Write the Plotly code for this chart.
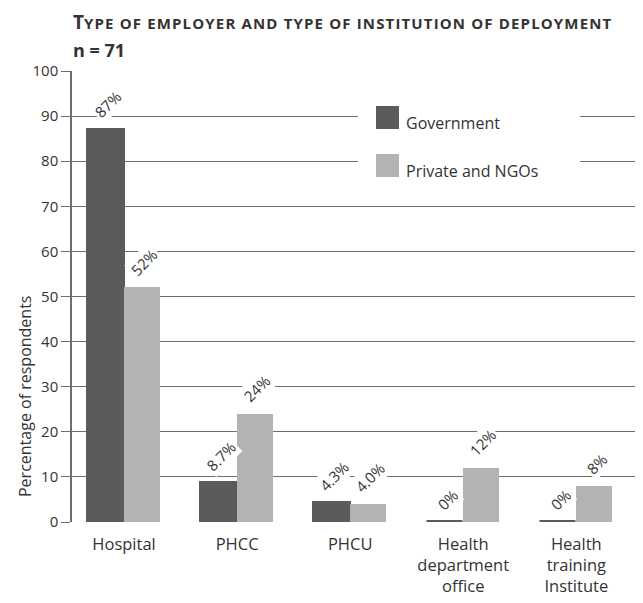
import plotly.graph_objects as go

categories = ["Hospital", "PHCC", "PHCU", "Health<br>department<br>office", "Health<br>training<br>Institute"]
government = [87, 8.7, 4.3, 0, 0]
private_ngo = [52, 24, 4.0, 12, 8]
gov_labels = ["87%", "8.7%", "4.3%", "0%", "0%"]
priv_labels = ["52%", "24%", "4.0%", "12%", "8%"]
series_names = ["Government", "Private and NGOs"]
y_ticks = [0, 10, 20, 30, 40, 50, 60, 70, 80, 90, 100]

DARK = "#5b5b5b"
LIGHT = "#b3b3b3"
GRID = "#6e6e6e"
TXT = "#333333"
FONT = "Open Sans"

OFF = 8  # page body margin
W, H = 643 - OFF, 603 - OFF
ML, MT = 72 - OFF, 71 - OFF
PW, PH = 571, 451
MR = W - ML - PW
MB = H - MT - PH
BARW = 0.32
idx = list(range(len(categories)))


def px(x):  # page pixel -> paper x
    return (x - OFF - ML) / PW


def py(y):  # page pixel -> paper y
    return (MT + PH - (y - OFF)) / PH


fig = go.Figure()
fig.add_trace(go.Bar(x=[i - BARW / 2 for i in idx], y=government, width=BARW, name=series_names[0],
                     marker=dict(color=DARK, line=dict(color=DARK, width=3)), showlegend=False))
fig.add_trace(go.Bar(x=[i + BARW / 2 for i in idx], y=private_ngo, width=BARW, name=series_names[1],
                     marker=dict(color=LIGHT, line=dict(width=0)), showlegend=False))

annotations = []
for i in idx:
    for xv, yv, lab in ((i - BARW / 2, government[i], gov_labels[i]), (i + BARW / 2, private_ngo[i], priv_labels[i])):
        annotations.append(dict(x=xv, y=yv, xref="x", yref="y", text=lab, showarrow=False,
                                textangle=-45, xanchor="center", yanchor="bottom", yshift=5, xshift=2,
                                bgcolor="white", borderpad=1,
                                font=dict(family=FONT, size=15, color=TXT)))

title_txt = ("<b>T<span style='font-size:15px;letter-spacing:1.15px'>"
             "YPE OF EMPLOYER AND TYPE OF INSTITUTION OF DEPLOYMENT</span></b>")
annotations.append(dict(xref="paper", yref="paper", x=px(71), xanchor="left", y=py(22),
                        yanchor="middle", showarrow=False, text=title_txt,
                        font=dict(family=FONT, size=19, color=TXT)))
annotations.append(dict(xref="paper", yref="paper", x=px(71), xanchor="left", y=py(50),
                        yanchor="middle", showarrow=False, text="<b>n = 71</b>",
                        font=dict(family=FONT, size=18, color=TXT)))
annotations.append(dict(xref="paper", yref="paper", x=px(25), xanchor="center",
                        y=py(397), yanchor="middle", showarrow=False, textangle=-90,
                        text="Percentage of respondents", font=dict(family=FONT, size=16, color=TXT)))

shapes = [dict(type="rect", xref="paper", yref="paper", x0=px(358), x1=px(580), y0=py(188), y1=py(100),
               fillcolor="white", line=dict(width=0), layer="above")]
legend_rows = [(series_names[0], DARK, 106), (series_names[1], LIGHT, 154)]
for name, col, top in legend_rows:
    shapes.append(dict(type="rect", xref="paper", yref="paper", x0=px(376), x1=px(399), y0=py(top + 23), y1=py(top),
                       fillcolor=col, line=dict(width=0), layer="above"))
    annotations.append(dict(xref="paper", yref="paper", x=px(404), xanchor="left", y=py(top + 17), yanchor="middle",
                            showarrow=False, text=name, font=dict(family=FONT, size=16, color=TXT)))

fig.update_layout(
    width=W, height=H,
    margin=dict(l=ML, r=MR, t=MT, b=MB, autoexpand=False),
    paper_bgcolor="white", plot_bgcolor="white",
    barmode="overlay",
    bargap=0,
    annotations=annotations,
    shapes=shapes,
    font=dict(family=FONT, color=TXT),
    xaxis=dict(range=[-0.46, 4.59], tickmode="array", tickvals=idx, ticktext=categories,
               showgrid=False, zeroline=False, showline=False, ticks="", ticklabelstandoff=10,
               tickfont=dict(family=FONT, size=16.5, color=TXT), automargin=False),
    yaxis=dict(range=[0, 100], tickmode="array", tickvals=y_ticks, showgrid=True, gridcolor=GRID, gridwidth=1,
               zeroline=False, showline=True, linecolor=GRID, linewidth=1.5, ticks="outside", ticklen=9,
               tickcolor=GRID, tickwidth=1, tickfont=dict(family=FONT, size=15, color=TXT), automargin=False),
)

fig.write_html("out.html")
